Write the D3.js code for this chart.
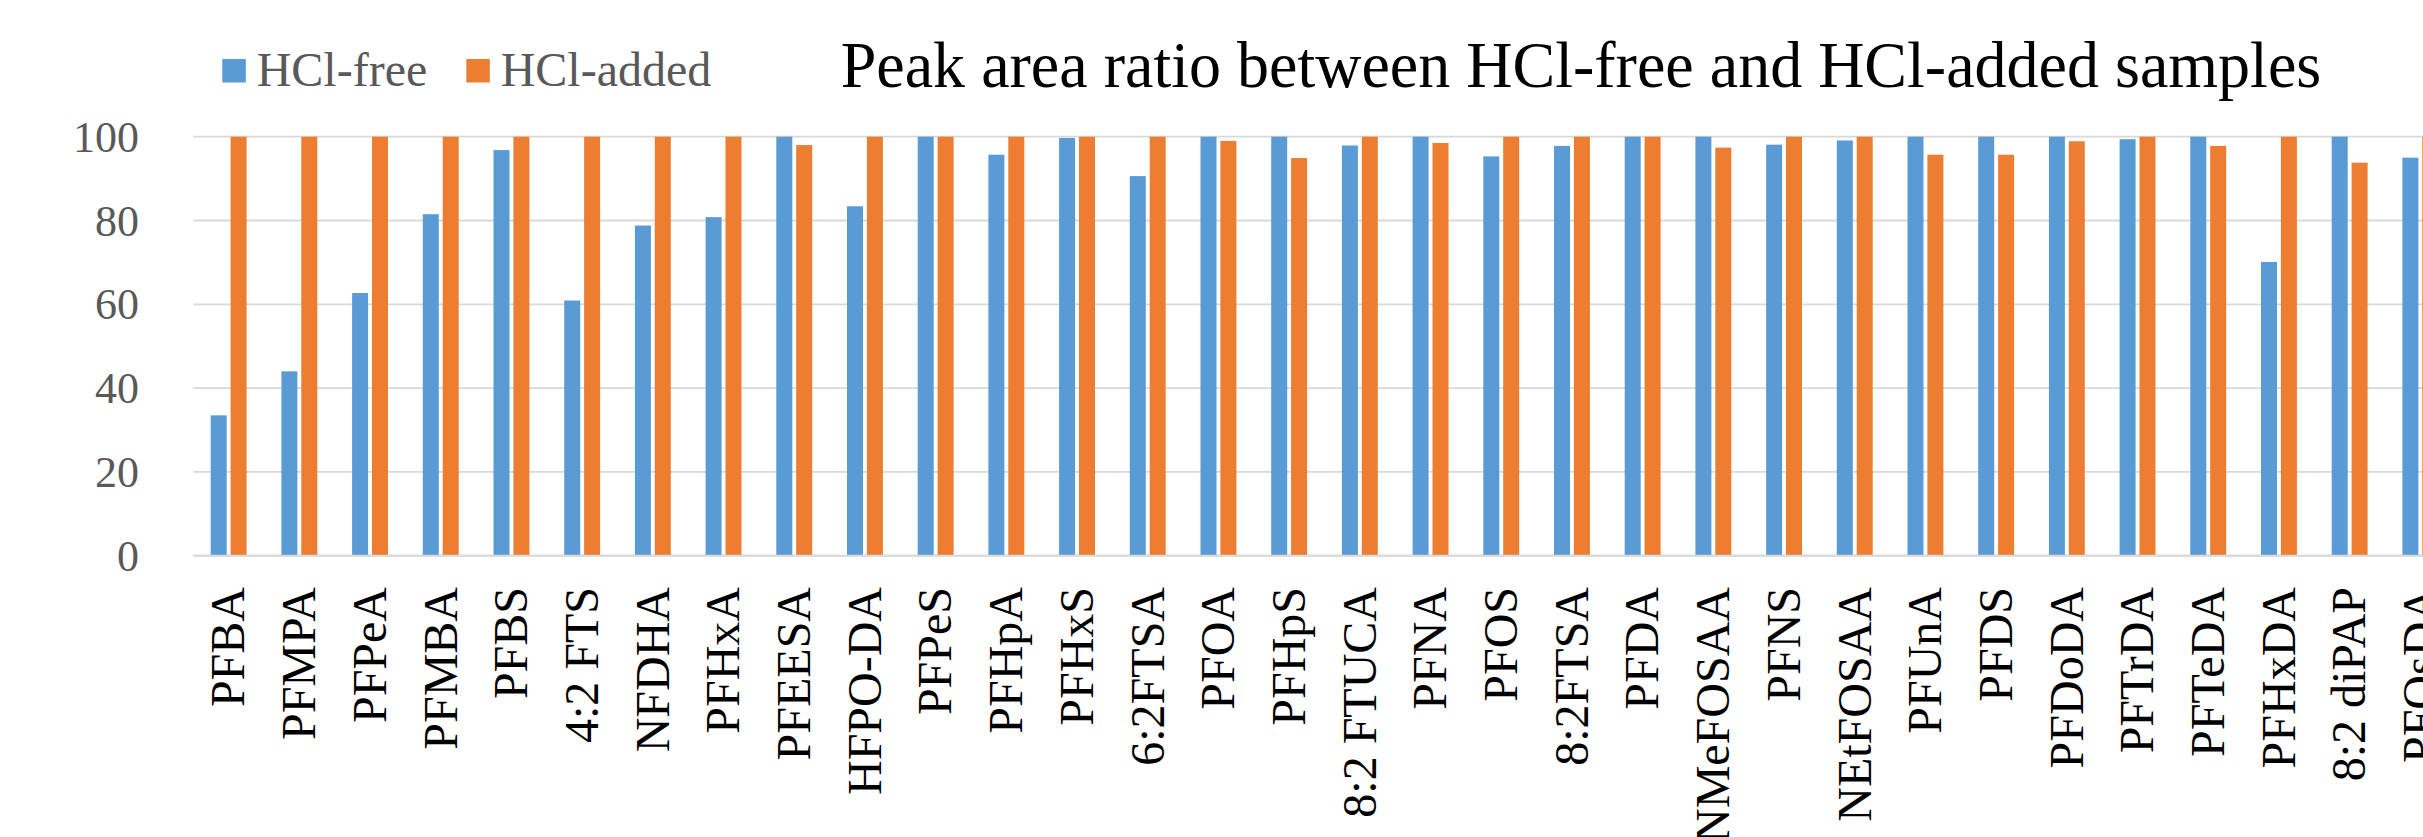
<!DOCTYPE html>
<html>
<head>
<meta charset="utf-8">
<script src="https://cdn.jsdelivr.net/npm/d3@7"></script>
<style>
  html, body { margin: 0; padding: 0; background: #fff; overflow: hidden; }
  svg { display: block; }
  text { font-family: "Times New Roman", "Liberation Serif", serif; }
</style>
</head>
<body>
<svg id="chart" width="2423" height="837"></svg>
<script>
const categories = ["PFBA","PFMPA","PFPeA","PFMBA","PFBS","4:2 FTS","NFDHA","PFHxA","PFEESA","HFPO-DA",
  "PFPeS","PFHpA","PFHxS","6:2FTSA","PFOA","PFHpS","8:2 FTUCA","PFNA","PFOS","8:2FTSA",
  "PFDA","NMeFOSAA","PFNS","NEtFOSAA","PFUnA","PFDS","PFDoDA","PFTrDA","PFTeDA","PFHxDA",
  "8:2 diPAP","PFOsDA"];
const hclFree = [33.5,44.0,62.7,81.5,96.8,60.9,78.8,80.8,100,83.4,
  100,95.7,99.7,90.6,100,100,97.9,100,95.3,97.8,
  100,100,98.1,99.1,100,100,100,99.4,100,70.1,
  100,95.0];
const hclAdded = [100,100,100,100,100,100,100,100,98.0,100,
  100,100,100,100,99.0,94.9,100,98.5,100,100,
  100,97.4,100,100,95.7,95.7,98.9,100,97.8,100,
  93.8,100];
const seriesNames = ["HCl-free","HCl-added"];
const seriesColors = ["#5b9bd5","#ed7d31"];
const yTicks = [0,20,40,60,80,100];
const title = "Peak area ratio between HCl-free and HCl-added samples";

const svg = d3.select("#chart");
const plotLeft = 193.3, plotTop = 136.7, plotBottom = 555.7, step = 70.7;
const plotRight = plotLeft + step * categories.length;

const x = d3.scaleBand().domain(categories).range([plotLeft, plotRight]).padding(0);
const xs = d3.scaleBand().domain(seriesNames).range([17.4, step - 17.4]).paddingInner(0.196);
const y = d3.scaleLinear().domain([0,100]).range([plotBottom, plotTop]);
const color = d3.scaleOrdinal().domain(seriesNames).range(seriesColors);

// gridlines
svg.append("g").selectAll("line").data(yTicks).join("line")
  .attr("x1", plotLeft).attr("x2", plotRight)
  .attr("y1", d => y(d)).attr("y2", d => y(d))
  .attr("stroke", "#d9d9d9").attr("stroke-width", 1.8);

// y axis labels
const yAxis = d3.axisLeft(y).tickValues(yTicks).tickSize(0).tickPadding(0);
const ya = svg.append("g").attr("transform", `translate(${139},0)`).call(yAxis);
ya.select(".domain").remove();
ya.selectAll("text").attr("font-size", 44).attr("fill", "#595959")
  .style("font-family", "'Times New Roman','Liberation Serif',serif").attr("dy", "0.33em");

// bars
const rows = categories.map((c,i) => ({cat: c, vals: [
  {s: seriesNames[0], v: hclFree[i]}, {s: seriesNames[1], v: hclAdded[i]}]}));
const groups = svg.append("g").selectAll("g").data(rows).join("g")
  .attr("transform", d => `translate(${x(d.cat)},0)`);
groups.selectAll("rect").data(d => d.vals).join("rect")
  .attr("x", d => xs(d.s)).attr("width", xs.bandwidth())
  .attr("y", d => y(d.v)).attr("height", d => y(0) - y(d.v))
  .attr("fill", d => color(d.s));

// x axis baseline
svg.append("line").attr("x1", plotLeft).attr("x2", plotRight)
  .attr("y1", y(0)).attr("y2", y(0)).attr("stroke", "#d9d9d9").attr("stroke-width", 2);

// x labels
svg.append("g").selectAll("text").data(categories).join("text")
  .attr("transform", d => `translate(${x(d) + x.bandwidth()/2},587) rotate(-90)`)
  .attr("text-anchor", "end").attr("dy", "0.33em")
  .attr("font-size", 48).attr("fill", "#000").text(d => d);

// legend
const legX = [222.3, 466.3];
const leg = svg.append("g").selectAll("g").data(seriesNames).join("g")
  .attr("transform", (d,i) => `translate(${legX[i]},0)`);
leg.append("rect").attr("x", 0).attr("y", 59).attr("width", 23.5).attr("height", 23.5)
  .attr("fill", d => color(d));
leg.append("text").attr("x", 34.4).attr("y", 85.7).attr("font-size", 48)
  .attr("fill", "#595959").text(d => d);

// title
svg.append("text").attr("transform", "translate(840.7,86.7) scale(0.985,1)")
  .attr("font-size", 65).attr("fill", "#000").text(title);
</script>
</body>
</html>
